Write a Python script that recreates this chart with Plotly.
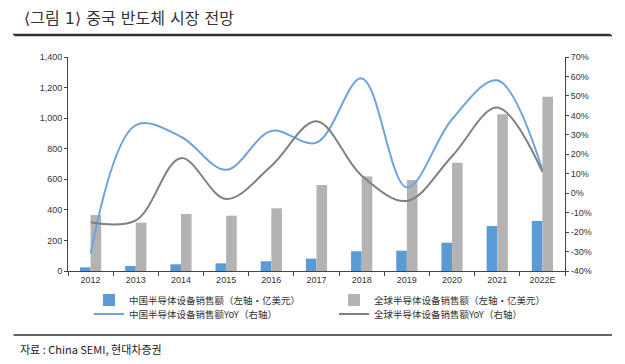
import plotly.graph_objects as go

years = ["2012", "2013", "2014", "2015", "2016", "2017", "2018", "2019", "2020", "2021", "2022E"]
china_sales = [24, 33, 44, 50, 64, 81, 129, 133, 185, 294, 327]
global_sales = [366, 316, 373, 362, 410, 562, 619, 595, 708, 1025, 1140]
china_yoy = [-31, 35, 29, 12, 32, 26, 59, 3, 38, 58, 12]
global_yoy = [-15, -14, 18, -3, 14, 37, 9, -4, 19, 44, 11]

left_ticks = [0, 200, 400, 600, 800, 1000, 1200, 1400]
right_ticks = list(range(-40, 71, 10))
right_labels = [f"{v}%" for v in right_ticks]

BLUE = "#5B9BD5"
GRAY = "#B3B3B3"
LBLUE = "#6FA3DE"
DGRAY = "#808080"

fig = go.Figure()
fig.add_trace(go.Bar(x=years, y=china_sales, name="中国半导体设备销售额（左轴·亿美元）",
                     marker=dict(color=BLUE, line=dict(width=0)), yaxis="y", legend="legend"))
fig.add_trace(go.Bar(x=years, y=global_sales, name="全球半导体设备销售额（左轴·亿美元）",
                     marker=dict(color=GRAY, line=dict(width=0)), yaxis="y", legend="legend2"))
fig.add_trace(go.Scatter(x=years, y=china_yoy, name="中国半导体设备销售额YoY（右轴）",
                         mode="lines", line=dict(color=LBLUE, width=2, shape="spline", smoothing=1.0),
                         yaxis="y2", legend="legend3"))
fig.add_trace(go.Scatter(x=years, y=global_yoy, name="全球半导体设备销售额YoY（右轴）",
                         mode="lines", line=dict(color=DGRAY, width=2, shape="spline", smoothing=1.0),
                         yaxis="y2", legend="legend4"))

tickfont = dict(family="Liberation Sans, Arial, sans-serif", size=9, color="#333333")
legfont = dict(family="Noto Sans CJK SC", size=9.5, color="#333333")

W, H = 625, 364
L, T, R, B = 60, 49, 68, 101
PW, PH = W - L - R, H - T - B


def px(x):
    return (x - L) / PW


def py(y):
    return (H - B - y) / PH


def leg(x, y):
    return dict(orientation="v", x=x / W, y=(H - y) / H, xref="container", yref="container",
                xanchor="left", yanchor="middle", font=legfont, tracegroupgap=0,
                bgcolor="rgba(0,0,0,0)", itemwidth=30)


fig.update_layout(
    width=W, height=H,
    margin=dict(l=L, r=R, t=T, b=B, autoexpand=False),
    paper_bgcolor="white", plot_bgcolor="white",
    barmode="group", bargap=0.53, bargroupgap=0,
    showlegend=True,
    legend=leg(81, 292),
    legend2=leg(326, 292),
    legend3=leg(81, 306),
    legend4=leg(326, 306),
    xaxis=dict(type="category", showline=True, linecolor="#444444", linewidth=1,
               ticks="outside", ticklen=4, tickcolor="#444444", tickson="boundaries",
               tickfont=tickfont, showgrid=False, zeroline=False),
    yaxis=dict(range=[0, 1400], tickvals=left_ticks, tickformat=",", showline=True,
               linecolor="#444444", linewidth=1, ticks="outside", ticklen=3, tickcolor="#444444",
               tickfont=tickfont, showgrid=False, zeroline=False),
    yaxis2=dict(range=[-40, 70], tickvals=right_ticks, ticktext=right_labels, overlaying="y", side="right",
                showline=True, linecolor="#444444", linewidth=1, ticks="outside", ticklen=3,
                tickcolor="#444444", tickfont=tickfont, showgrid=False, zeroline=False),
)

fig.add_annotation(text="⟨그림 1⟩ 중국 반도체 시장 전망", xref="paper", yref="paper",
                   x=px(14), y=py(10), xanchor="left", yanchor="middle", showarrow=False,
                   font=dict(family="DejaVu Sans, Noto Sans CJK KR", size=16, color="#333333"))
fig.add_annotation(text="자료 : China SEMI, 현대차증권", xref="paper", yref="paper",
                   x=px(10), y=py(341), xanchor="left", yanchor="middle", showarrow=False,
                   font=dict(family="Noto Sans CJK KR", size=11, color="#222222"))

# horizontal rules (drawn as headless annotation arrows)
rules = [(5, 604, 27.5), (4, 604, 327)]
for (xa, xb, yy) in rules:
    fig.add_annotation(text="", xref="paper", yref="paper", x=px(xb), y=py(yy),
                       ax=-(xb - xa), ay=0, axref="pixel", ayref="pixel",
                       showarrow=True, arrowhead=0, arrowwidth=1.5, arrowcolor="#333333",
                       standoff=0, startstandoff=0)
# top rule, second attempt drawn in the opposite direction
fig.add_annotation(text="", xref="paper", yref="paper", x=px(5), y=py(26.5),
                   ax=599, ay=0, axref="pixel", ayref="pixel",
                   showarrow=True, arrowhead=0, arrowwidth=1.5, arrowcolor="#333333",
                   standoff=0, startstandoff=0)

fig.write_html("out.html")
